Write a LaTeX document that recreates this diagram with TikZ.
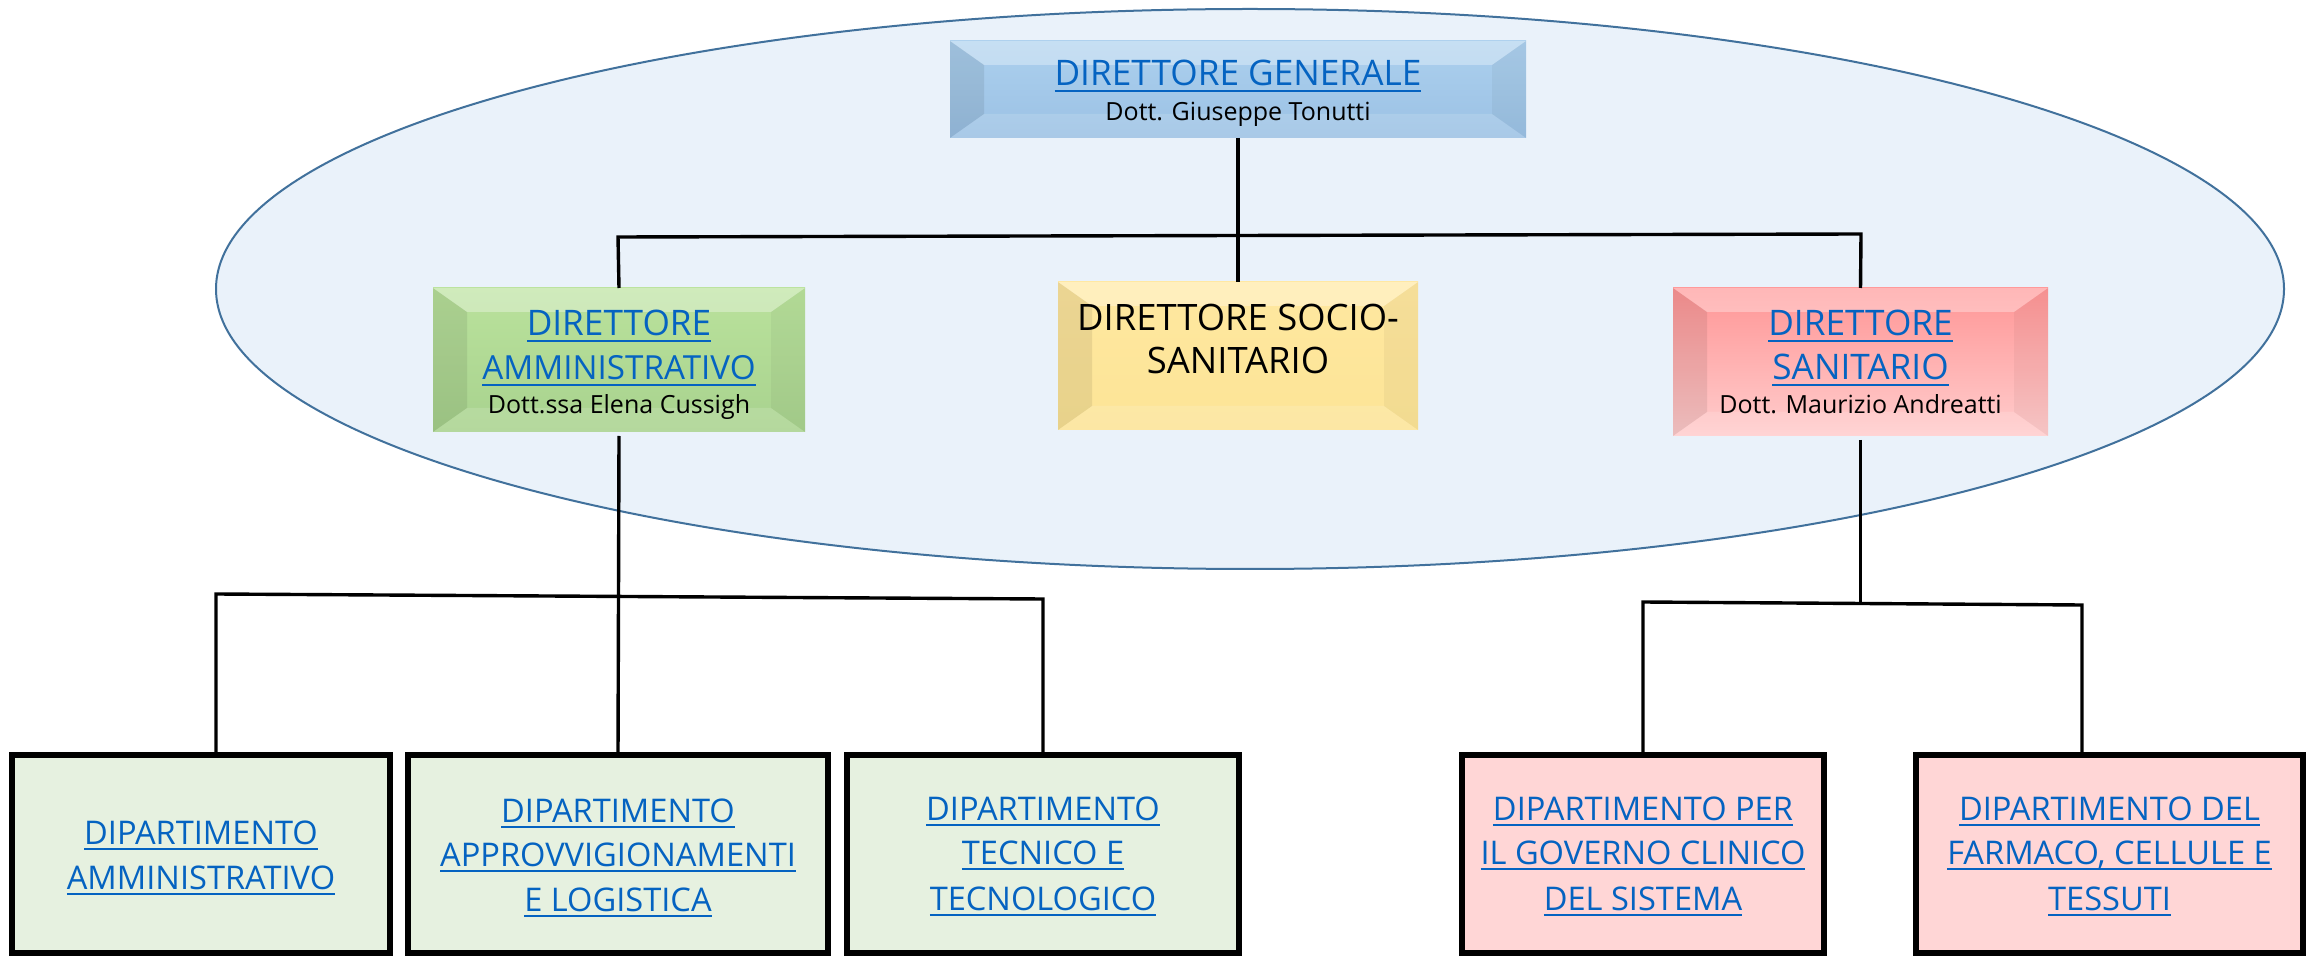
\documentclass[tikz,border=0pt]{standalone}
\usepackage{fontspec}
\setmainfont{Open Sans}
\usetikzlibrary{shapes.geometric}
\newcommand{\lnk}[1]{\setbox0\hbox{#1}\leavevmode\rlap{\vrule width\wd0 height -2.2pt depth 3.2pt}\box0}
\definecolor{linkblue}{RGB}{5,99,193}
\definecolor{ellfill}{RGB}{234,242,250}
\definecolor{elldraw}{RGB}{65,113,156}
\definecolor{dgtop}{RGB}{172,208,238}
\definecolor{dgbot}{RGB}{155,193,228}
\definecolor{datop}{RGB}{186,226,156}
\definecolor{dabot}{RGB}{168,210,142}
\definecolor{dsstop}{RGB}{255,232,160}
\definecolor{dssbot}{RGB}{252,228,150}
\definecolor{dstop}{RGB}{255,150,150}
\definecolor{dsbot}{RGB}{255,205,205}
\definecolor{greenbox}{RGB}{230,241,224}
\definecolor{pinkbox}{RGB}{255,214,214}
\newcommand{\bevelize}[1]{%
  \fill[white,fill opacity=0.32] (#1.north west) -- (#1.north east) -- ([xshift=-17pt,yshift=-12pt]#1.north east) -- ([xshift=17pt,yshift=-12pt]#1.north west) -- cycle;
  \fill[black,fill opacity=0.08] (#1.north west) -- ([xshift=17pt,yshift=-12pt]#1.north west) -- ([xshift=17pt,yshift=12pt]#1.south west) -- (#1.south west) -- cycle;
  \fill[black,fill opacity=0.04] (#1.north east) -- ([xshift=-17pt,yshift=-12pt]#1.north east) -- ([xshift=-17pt,yshift=12pt]#1.south east) -- (#1.south east) -- cycle;
  \fill[white,fill opacity=0.14] (#1.south west) -- ([xshift=17pt,yshift=12pt]#1.south west) -- ([xshift=-17pt,yshift=12pt]#1.south east) -- (#1.south east) -- cycle;
}
\begin{document}
\begin{tikzpicture}[x=0.5pt,y=-0.5pt,
  topbox/.style={rectangle, inner sep=0pt, outer sep=0pt},
  depbox/.style={rectangle, draw=black, line width=2.6pt, inner sep=0pt, outer sep=0pt, minimum height=99pt},
  ttl/.style={anchor=base, inner sep=0pt, text=linkblue, font=\fontsize{17.6}{20}\selectfont},
  ttlk/.style={anchor=base, inner sep=0pt, text=black, font=\fontsize{18.2}{20}\selectfont},
  nm/.style={anchor=base, inner sep=0pt, text=black, font=\fontsize{12.5}{15}\selectfont},
  dep/.style={anchor=base, inner sep=0pt, text=linkblue, font=\fontsize{16.3}{18}\selectfont},
  conn/.style={draw=black, line width=1.7pt}]
\useasboundingbox (0,0) rectangle (2307,956);
\fill[white] (0,0) rectangle (2307,956);

% ellipse
\node[ellipse, draw=elldraw, fill=ellfill, line width=1pt, minimum width=1034pt, minimum height=280pt, inner sep=0pt] (ell) at (1250,289) {};

% top boxes
\node[topbox, top color=dgtop, bottom color=dgbot, minimum width=288pt, minimum height=48.5pt] (dg) at (1238,89.5) {};
\bevelize{dg}
\node[topbox, top color=datop, bottom color=dabot, minimum width=186pt, minimum height=72pt] (da) at (619,360) {};
\bevelize{da}
\node[topbox, top color=dsstop, bottom color=dssbot, minimum width=180pt, minimum height=74pt] (dss) at (1238,356) {};
\bevelize{dss}
\node[topbox, top color=dstop, bottom color=dsbot, minimum width=187.5pt, minimum height=74pt] (ds) at (1860.5,362) {};
\bevelize{ds}

% top texts
\node[ttl] (dgt) at (1238,86) {\lnk{DIRETTORE GENERALE}};
\node[nm] (dgn) at (1238,121) {Dott. Giuseppe Tonutti};
\node[ttl] (dat1) at (619,336) {\lnk{DIRETTORE}};
\node[ttl, font=\fontsize{16.6}{20}\selectfont] (dat2) at (619,380) {\lnk{AMMINISTRATIVO}};
\node[nm] (dan) at (619,414) {Dott.ssa Elena Cussigh};
\node[ttlk] (dsst1) at (1238,331) {DIRETTORE SOCIO-};
\node[ttlk] (dsst2) at (1238,374) {SANITARIO};
\node[ttl] (dst1) at (1860.5,336) {\lnk{DIRETTORE}};
\node[ttl] (dst2) at (1860.5,380) {\lnk{SANITARIO}};
\node[nm] (dsn) at (1860.5,414) {Dott. Maurizio Andreatti};

% department boxes
\node[depbox, fill=greenbox, minimum width=189pt] (b1) at (201,854) {};
\node[depbox, fill=greenbox, minimum width=210pt] (b2) at (618,854) {};
\node[depbox, fill=greenbox, minimum width=196pt] (b3) at (1043,854) {};
\node[depbox, fill=pinkbox, minimum width=181pt] (b4) at (1643,854) {};
\node[depbox, fill=pinkbox, minimum width=193.5pt] (b5) at (2109.5,854) {};

\node[dep] (b1t1) at (201,844) {\lnk{DIPARTIMENTO}};
\node[dep] (b1t2) at (201,889) {\lnk{AMMINISTRATIVO}};
\node[dep] (b2t1) at (618,822) {\lnk{DIPARTIMENTO}};
\node[dep] (b2t2) at (618,866) {\lnk{APPROVVIGIONAMENTI}};
\node[dep] (b2t3) at (618,911) {\lnk{E LOGISTICA}};
\node[dep] (b3t1) at (1043,820) {\lnk{DIPARTIMENTO}};
\node[dep] (b3t2) at (1043,864) {\lnk{TECNICO E}};
\node[dep] (b3t3) at (1043,910) {\lnk{TECNOLOGICO}};
\node[dep] (b4t1) at (1643,820) {\lnk{DIPARTIMENTO PER}};
\node[dep] (b4t2) at (1643,864) {\lnk{IL GOVERNO CLINICO}};
\node[dep] (b4t3) at (1643,910) {\lnk{DEL SISTEMA}};
\node[dep] (b5t1) at (2109.5,820) {\lnk{DIPARTIMENTO DEL}};
\node[dep] (b5t2) at (2109.5,864) {\lnk{FARMACO, CELLULE E}};
\node[dep] (b5t3) at (2109.5,910) {\lnk{TESSUTI}};

% connector coordinates
\coordinate (j1l) at (618,237);
\coordinate (j1r) at (1861,234);
\coordinate (j2l) at (216,594);
\coordinate (j2r) at (1043,599);
\coordinate (j3l) at (1643,602);
\coordinate (j3r) at (2082,605);

% connectors
\draw[conn] (dg.south) -- (dss.north);
\draw[conn] (da.north) -- (j1l) -- (j1r) -- (ds.north);
\draw[conn] ([yshift=-2pt]da.south) -- (b2.north);
\draw[conn] (b1.north -| j2l) -- (j2l) -- (j2r) -- (b3.north);
\draw[conn] ([yshift=-2pt]ds.south) -- (ds.south |- j3l);
\draw[conn] (b4.north) -- (j3l) -- (j3r) -- (b5.north -| j3r);
\end{tikzpicture}
\end{document}
